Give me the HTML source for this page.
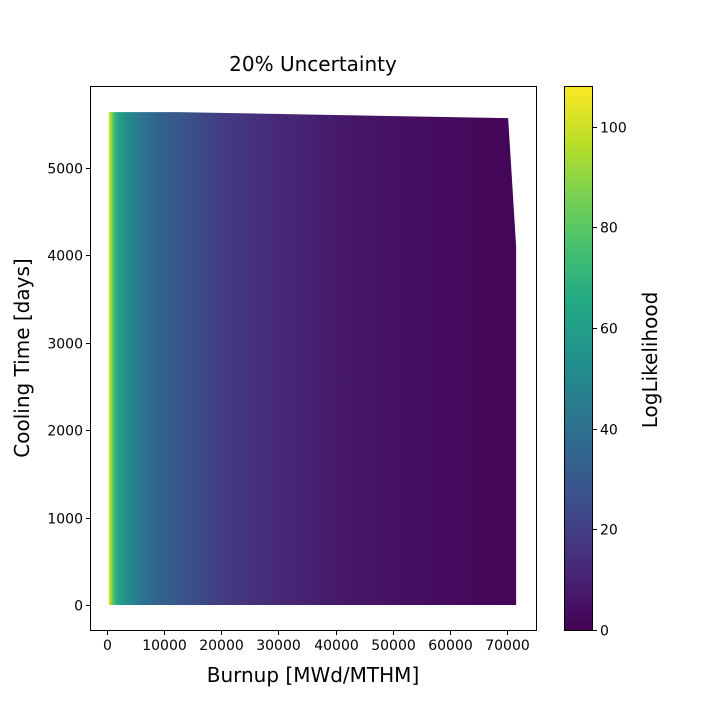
<!DOCTYPE html>
<html><head><meta charset="utf-8"><style>
body{margin:0;background:#fff;}
svg text{font-family:"DejaVu Sans","Liberation Sans",sans-serif;fill:#000;}
</style></head><body>
<svg id="chart" width="720" height="720" viewBox="0 0 720 720">
<defs>
<linearGradient id="fillGrad" gradientUnits="userSpaceOnUse" x1="0" y1="0" x2="720" y2="0"></linearGradient>
<linearGradient id="cbGrad" x1="0" y1="1" x2="0" y2="0"></linearGradient>
</defs>
<rect width="720" height="720" fill="#fff"/>
<text x="313" y="71" font-size="20" text-anchor="middle">20% Uncertainty</text>
<g id="plot"></g>
<rect x="90.5" y="86.5" width="446" height="544" fill="none" stroke="#000" stroke-width="1"/>
<g id="xticks"></g><g id="yticks"></g>
<text x="313" y="682" font-size="20" text-anchor="middle">Burnup [MWd/MTHM]</text>
<text transform="translate(29,358) rotate(-90)" font-size="20" text-anchor="middle">Cooling Time [days]</text>
<rect x="564" y="86" width="28" height="544" fill="url(#cbGrad)"/>
<rect x="564.5" y="86.5" width="28" height="544" fill="none" stroke="#000" stroke-width="1"/>
<g id="cticks"></g>
<text transform="translate(657,360) rotate(-90)" font-size="20" text-anchor="middle">LogLikelihood</text>
</svg>
<script>
const burnupStops=[300,700,1200,2000,3500,6000,9000,13000,20000,30000,45000,60000,71500];
const llValues=[104,92,75,62,52,42,34,29,19,12,6,3,1.5];
const boundaryBurnup=[300,12500,70200,71600,71600,300];
const boundaryCooling=[5640,5640,5570,4100,0,0];
const xTickVals=[0,10000,20000,30000,40000,50000,60000,70000];
const yTickVals=[0,1000,2000,3000,4000,5000];
const cTickVals=[0,20,40,60,80,100];
const cMax=108.1;

const xs=v=>107+v*(400/70000);
const ys=v=>605-v*(437/5000);
const cs=v=>630-v*(544/cMax);
const NS='http://www.w3.org/2000/svg';
const vir=[[68,1,84],[72,36,117],[65,68,135],[53,95,141],[42,120,142],[33,145,140],[34,168,132],[68,191,112],[122,209,81],[189,223,38],[253,231,37]];
function viridis(t){t=Math.max(0,Math.min(1,t));const p=t*10,i=Math.min(9,Math.floor(p)),f=p-i;
const c=vir[i].map((a,k)=>Math.round(a+(vir[i+1][k]-a)*f));return `rgb(${c[0]},${c[1]},${c[2]})`;}
const fg=document.getElementById('fillGrad');
burnupStops.forEach((b,i)=>{const s=document.createElementNS(NS,'stop');
s.setAttribute('offset',xs(b)/720);s.setAttribute('stop-color',viridis(llValues[i]/cMax));fg.appendChild(s);});
const cg=document.getElementById('cbGrad');
for(let i=0;i<=20;i++){const s=document.createElementNS(NS,'stop');s.setAttribute('offset',i/20);s.setAttribute('stop-color',viridis(i/20));cg.appendChild(s);}
const poly=document.createElementNS(NS,'polygon');
poly.setAttribute('points',boundaryBurnup.map((b,i)=>xs(b)+','+ys(boundaryCooling[i])).join(' '));
poly.setAttribute('fill','url(#fillGrad)');


document.getElementById('plot').appendChild(poly);
function tick(g,x1,y1,x2,y2,tx,ty,anchor,label,name){
const l=document.createElementNS(NS,'line');l.setAttribute('x1',x1);l.setAttribute('y1',y1);l.setAttribute('x2',x2);l.setAttribute('y2',y2);l.setAttribute('stroke','#000');


g.appendChild(l);
const t=document.createElementNS(NS,'text');t.setAttribute('x',tx);t.setAttribute('y',ty);t.setAttribute('font-size','14');t.setAttribute('text-anchor',anchor);t.textContent=label;


g.appendChild(t);}
const gx=document.getElementById('xticks');
xTickVals.forEach(v=>{const x=Math.round(xs(v))+0.5;tick(gx,x,631,x,635,x,650,'middle',String(v),'x-tick');});
const gy=document.getElementById('yticks');
yTickVals.forEach(v=>{const y=Math.round(ys(v))+0.5;tick(gy,86,y,90,y,83,y+5,'end',String(v),'y-tick');});
const gc=document.getElementById('cticks');
cTickVals.forEach(v=>{const y=Math.round(cs(v))+0.5;tick(gc,593,y,597,y,600,y+5,'start',String(v),'colorbar-tick');});
</script>
</body></html>
